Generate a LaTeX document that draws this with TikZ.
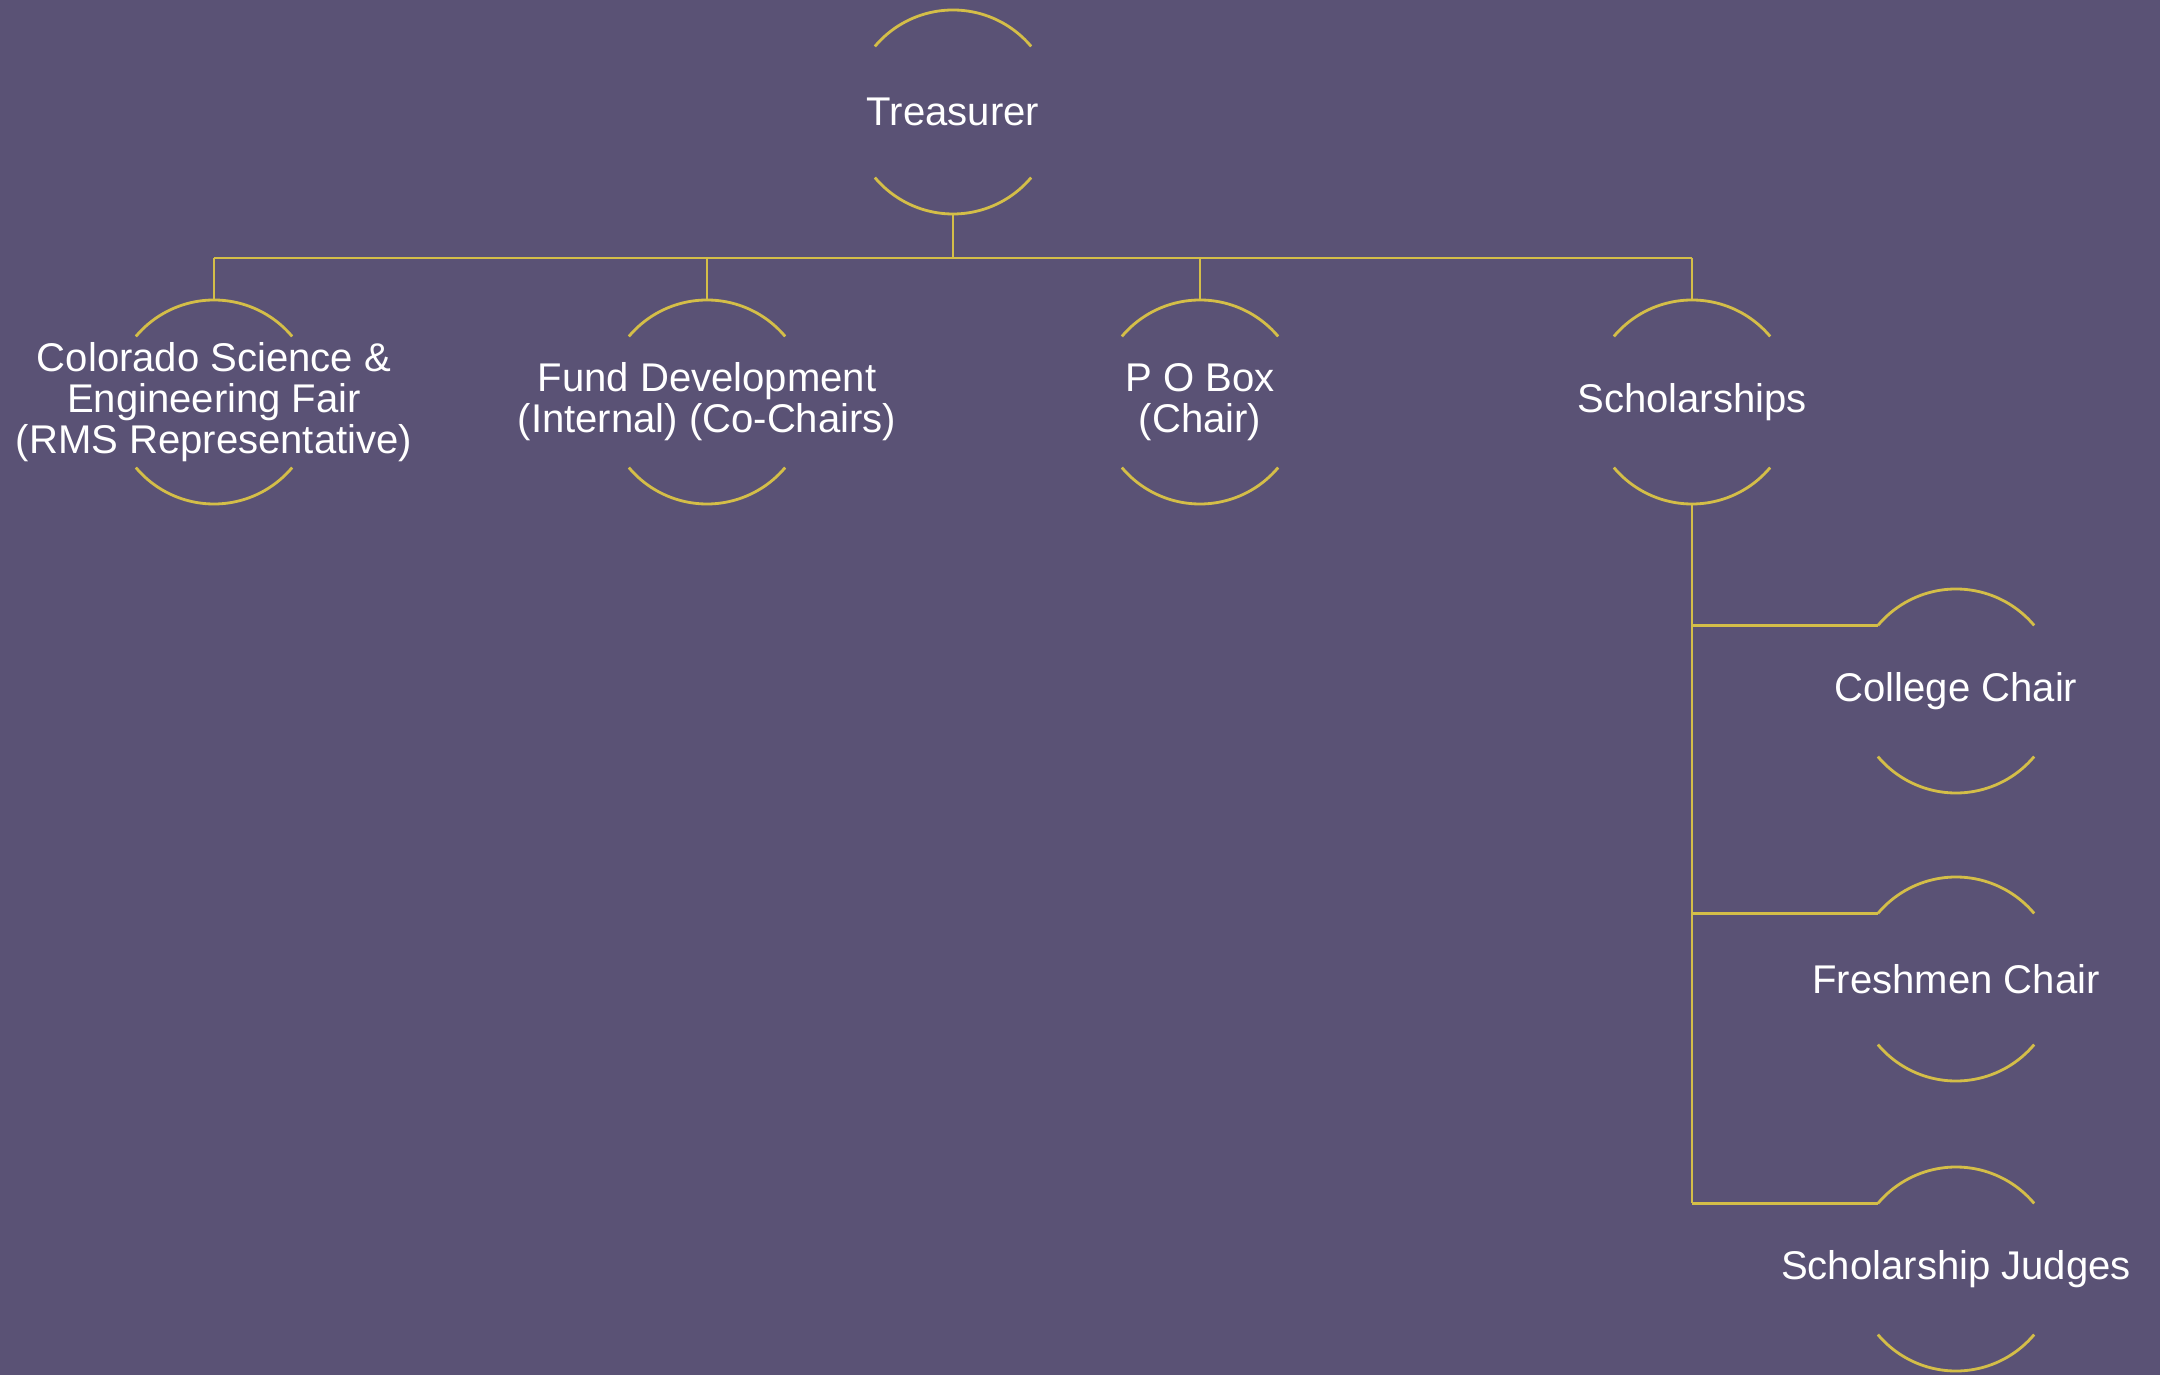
\documentclass[tikz,border=0pt]{standalone}
\usepackage{fontspec}
\setmainfont{Liberation Sans}
\definecolor{bgpurple}{RGB}{90,82,117}
\definecolor{ringgold}{RGB}{212,190,72}
\tikzset{
  member/.style={text=white, align=center, inner sep=0pt,
    font=\fontsize{11.4}{11.7}\selectfont},
  ring/.style={draw=ringgold, line width=0.8pt},
  link/.style={draw=ringgold, line width=0.8pt}
}
\begin{document}
\begin{tikzpicture}
  \def\rr{1.02cm}
      \fill[bgpurple] (0,0) rectangle (21.6,-13.75);
      \useasboundingbox (0,0) rectangle (21.6,-13.75);
      \node[member] (treas) at (9.53,-1.12) {Treasurer};
      \node[member] (csef) at (2.14,-4.02) {Colorado Science \&\\Engineering Fair\\(RMS Representative)};
      \node[member] (fund) at (7.07,-4.02) {Fund Development\\(Internal) (Co-Chairs)};
      \node[member] (pobox) at (12.00,-4.02) {P O Box\\(Chair)};
      \node[member] (schol) at (16.92,-4.02) {Scholarships};
      \node[member] (college) at (19.56,-6.91) {College Chair};
      \node[member] (fresh) at (19.56,-9.79) {Freshmen Chair};
      \node[member] (judges) at (19.56,-12.69) {Scholarship Judges};
      % open rings round every member
      \foreach \n in {treas,csef,fund,pobox,schol,college,fresh,judges}{
        \draw[ring] (\n.center) ++(40:\rr) arc (40:140:\rr);
        \draw[ring] (\n.center) ++(220:\rr) arc (220:320:\rr);
      }
      % treasurer to first level
      \coordinate (bar) at (9.53,-2.58);
      \draw[link] ([yshift=-\rr]treas.center) -- (bar);
      \draw[link] (bar -| csef) -- (bar -| schol);
      \foreach \n in {csef,fund,pobox,schol}
        \draw[link] (bar -| \n) -- ([yshift=\rr]\n.center);
      % scholarships to its chairs
      \foreach \n in {college,fresh,judges}
        \coordinate (\n-in) at ([shift={(140:\rr)}]\n.center);
      \draw[link] ([yshift=-\rr]schol.center) -- (schol |- judges-in);
      \foreach \n in {college,fresh,judges}
        \draw[link] (schol |- \n-in) -- (\n-in);
  \end{tikzpicture}
\end{document}
